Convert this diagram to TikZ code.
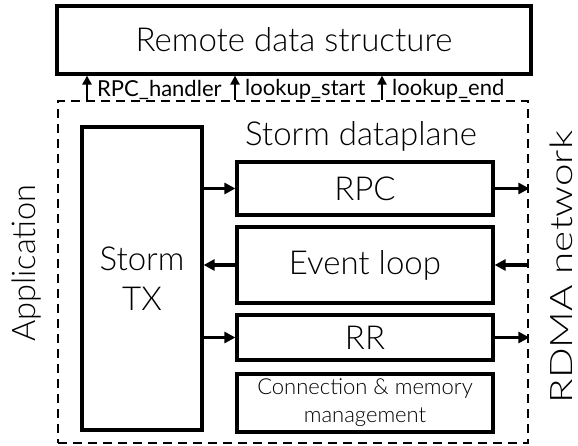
\documentclass[tikz,border=0pt]{standalone}
\usepackage{fontspec}
\setmainfont{Lato}[UprightFont=* Light]
\newfontfamily\lbl{Lato}
\usepackage{tikz}
\usetikzlibrary{arrows.meta,calc}

\begin{document}
\begin{tikzpicture}
[
x=1pt, y=-1pt,
>={Triangle[length=11pt,width=11pt]},
box/.style={draw, line width=3.2pt, inner sep=0pt, font=\fontsize{33}{40}\selectfont},
link/.style={->, line width=3.2pt},
hook/.style={->, line width=2.8pt, >={Triangle[length=9pt,width=9pt]}},
hooklabel/.style={anchor=west, inner sep=0pt, font=\lbl\fontsize{22}{24}\selectfont}
]
\useasboundingbox (0,0) rectangle (578,446);

\node[box, minimum width=474pt, minimum height=68pt] (remote) at (294,40) {Remote data structure};
\node[draw, dashed, dash pattern=on 9pt off 6pt, line width=2.8pt, minimum width=470pt, minimum height=342pt, inner sep=0pt] (app) at (293,272) {};

\node[box, minimum width=120pt, minimum height=303pt, align=center] (tx) at (142,278.5) {Storm\\TX};
\node[inner sep=0pt, font=\fontsize{33}{36}\selectfont] (dp) at (361,136) {Storm dataplane};
\node[box, minimum width=256pt, minimum height=53pt] (rpc) at (365,188.5) {RPC};
\node[box, minimum width=256pt, minimum height=76pt] (loop) at (365,265) {Event loop};
\node[box, minimum width=256pt, minimum height=45pt] (rr) at (365,337.5) {RR};
\node[box, minimum width=256pt, minimum height=58pt, align=center, font=\fontsize{22}{28}\selectfont] (conn) at (365,403) {Connection \& memory\\management};

\node[rotate=90, inner sep=0pt, font=\fontsize{32.5}{36}\selectfont] (appl) at (27,263) {Application};
\node[rotate=90, xscale=1.3, inner sep=0pt, font=\fontsize{31}{34}\selectfont] (rdma) at (561,267) {RDMA network};

% hooks into the remote structure
\foreach \x/\name/\txt in {87/h1/RPC\_handler, 235/h2/lookup\_start, 382/h3/lookup\_end}{
  \coordinate (\name) at (\x,0);
  \draw[hook] (app.north -| \name) -- (remote.south -| \name);
  \node[hooklabel] at ([xshift=10pt,yshift=-2pt]$(app.north -| \name)!0.5!(remote.south -| \name)$) {\txt};
}

% dataplane links
\draw[link] (tx.east |- rpc.west) -- (rpc.west);
\draw[link] (loop.west) -- (tx.east |- loop.west);
\draw[link] (tx.east |- rr.west) -- (rr.west);
\draw[link] (rpc.east) -- (app.east |- rpc.east);
\draw[link] (app.east |- loop.east) -- (loop.east);
\draw[link] (rr.east) -- (app.east |- rr.east);
\end{tikzpicture}
\end{document}
